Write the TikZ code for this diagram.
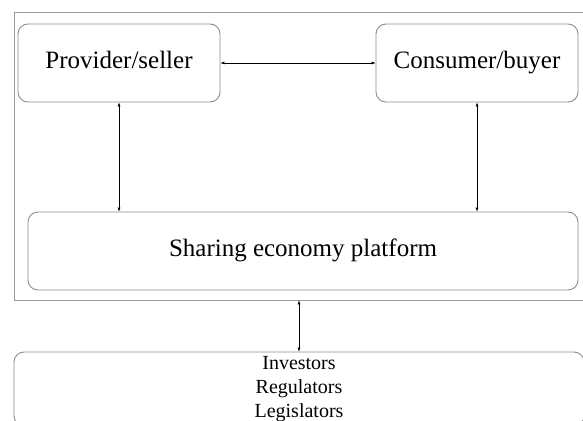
\documentclass[tikz,border=0pt]{standalone}
\usepackage{fontspec}
\setmainfont{Liberation Serif}
\usetikzlibrary{arrows.meta}

\begin{document}
\begin{tikzpicture}[x=1pt, y=-1pt,
  box/.style={draw=gray!90, line width=0.9pt, rounded corners=10pt, inner sep=0pt},
  big/.style={font=\fontsize{25}{29}\selectfont, text height=17pt, text depth=6pt},
  link/.style={{Latex[length=4pt,width=3pt]}-{Latex[length=4pt,width=3pt]}, line width=0.5pt}]
\useasboundingbox (0,0) rectangle (583,420);
\clip (0,0) rectangle (583,420);

\node[draw=gray!80, line width=0.9pt, minimum width=580pt, minimum height=288pt, inner sep=0pt] (frame) at (304,156) {};

\node[box, big, minimum width=202pt, minimum height=78pt] (provider) at (119,63) {Provider/seller};
\node[box, big, minimum width=202pt, minimum height=78pt] (consumer) at (477,63) {Consumer/buyer};
\node[box, big, minimum width=550pt, minimum height=78pt] (platform) at (303,251) {Sharing economy platform};

\node[box, minimum width=570pt, minimum height=74pt, align=center, font=\fontsize{20}{24}\selectfont] (stake) at (299,389) {Investors\\Regulators\\Legislators};

\draw[link] (provider.east) -- (consumer.west);
\draw[link] (provider.south) -- (provider.south |- platform.north);
\draw[link] (consumer.south) -- (consumer.south |- platform.north);
\draw[link] (stake.north) -- (stake.north |- frame.south);
\end{tikzpicture}
\end{document}
